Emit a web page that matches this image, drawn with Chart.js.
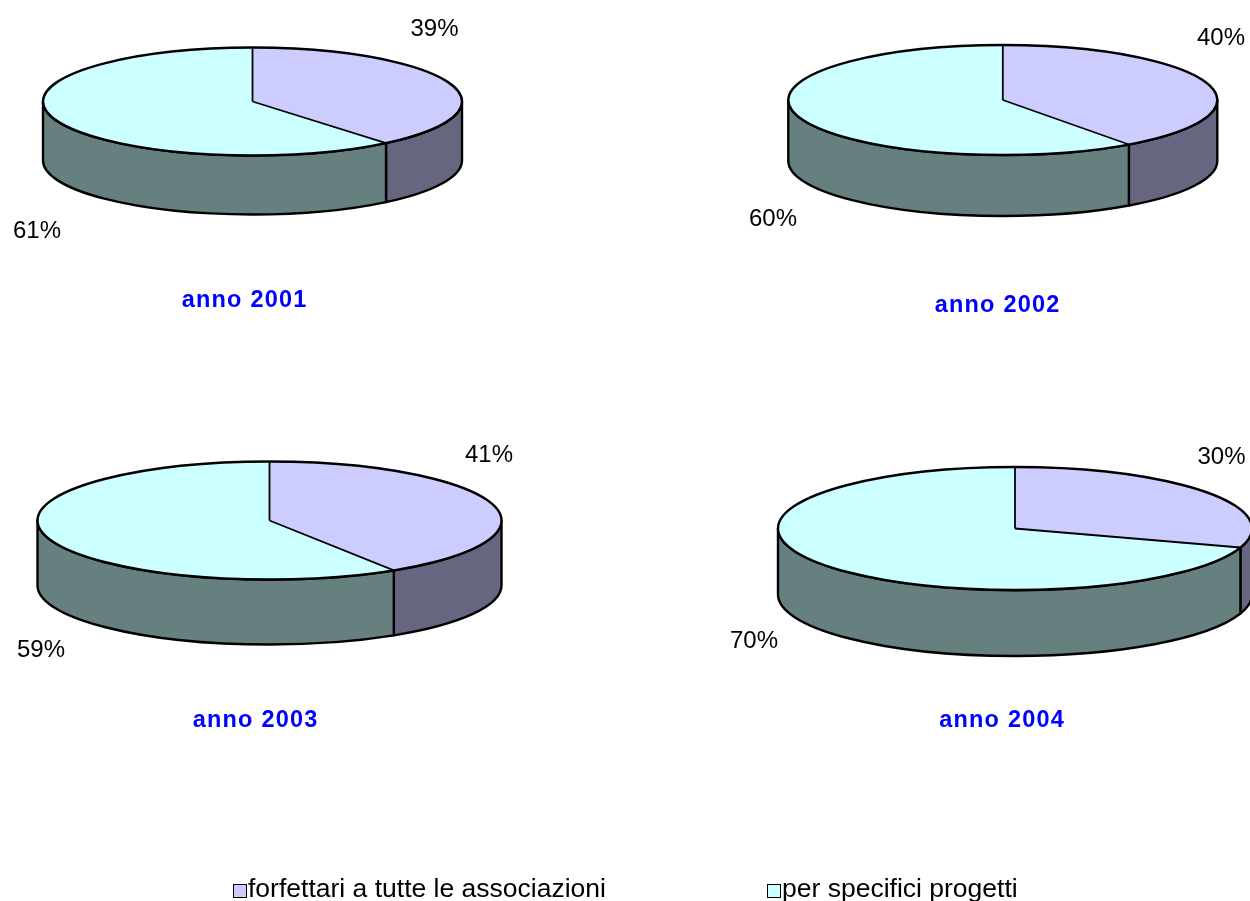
<!DOCTYPE html>
<html>
<head>
<meta charset="utf-8">
<script src="https://cdn.jsdelivr.net/npm/chart.js@4.4.1/dist/chart.umd.min.js"></script>
<style>
html,body{margin:0;padding:0;background:#fff;}
#wrap{position:relative;width:1250px;height:901px;overflow:hidden;background:#fff;}
#wrap canvas{position:absolute;left:0;top:0;}
.leg{position:absolute;font-family:"Liberation Sans",Arial,sans-serif;font-size:26.5px;line-height:26px;color:#000;white-space:nowrap;}
.sw{position:absolute;width:12px;height:12px;border:1px solid #000;box-sizing:content-box;}
</style>
</head>
<body>
<div id="wrap">
  <canvas id="c0" width="1250" height="901"></canvas>
  <canvas id="c1" width="1250" height="901"></canvas>
  <canvas id="c2" width="1250" height="901"></canvas>
  <canvas id="c3" width="1250" height="901"></canvas>
</div>
<script>
// ---- data ----
const years = ['anno 2001', 'anno 2002', 'anno 2003', 'anno 2004'];
const seriesNames = ['forfettari a tutte le associazioni', 'per specifici progetti'];
const forfettari = [39, 40, 41, 30];
const progetti = [61, 60, 59, 70];

// ---- styles ----
const topColors = ['#CCCCFF', '#CCFFFF'];
const sideColors = ['#666680', '#668080'];
const FONT = '"Liberation Sans", Arial, sans-serif';

// ---- layout of each 3D pie (page coordinates) ----
const layouts = [
  {cx: 252.5, cy: 101.5, rx: 209.5, ry: 54,   depth: 59, labels: [[434.5, 35.5], [37, 238]],     title: [244, 307.3]},
  {cx: 1002.8, cy: 100,  rx: 214.5, ry: 55,   depth: 61, labels: [[1221, 45],    [773, 226]],    title: [997, 311.5]},
  {cx: 269.5, cy: 520.5, rx: 232,   ry: 59,   depth: 65, labels: [[489, 461.5],  [41, 657]],     title: [255, 726.5]},
  {cx: 1015,  cy: 528.5, rx: 237,   ry: 61.5, depth: 66, labels: [[1221.5, 464], [754, 648]],    title: [1001.5, 727.3]}
];

const pie3d = {
  id: 'pie3d',
  beforeDatasetsDraw(chart, args, o) {
    const ctx = chart.ctx;
    const arcs = chart.getDatasetMeta(0).data;
    // visible front walls
    ctx.save();
    ctx.lineWidth = 2.4;
    ctx.strokeStyle = '#000';
    ctx.lineJoin = 'round';
    arcs.forEach((a, i) => {
      const s = Math.max(a.startAngle, 0);
      const e = Math.min(a.endAngle, Math.PI);
      if (e <= s) return;
      ctx.beginPath();
      ctx.ellipse(o.cx, o.cy, o.rx, o.ry, 0, s, e, false);
      ctx.ellipse(o.cx, o.cy + o.depth, o.rx, o.ry, 0, e, s, true);
      ctx.closePath();
      ctx.fillStyle = o.sideColors[i];
      ctx.fill();
      ctx.stroke();
    });
    ctx.restore();
    // squash the library's pie into the top ellipse
    const a0 = arcs[0];
    ctx.save();
    ctx.translate(o.cx, o.cy);
    ctx.scale(o.rx / a0.outerRadius, o.ry / a0.outerRadius);
    ctx.translate(-a0.x, -a0.y);
  },
  afterDatasetsDraw(chart, args, o) {
    const ctx = chart.ctx;
    ctx.restore();
    const arcs = chart.getDatasetMeta(0).data;
    const values = chart.data.datasets[0].data;
    ctx.save();
    ctx.strokeStyle = '#000';
    // top outline
    ctx.lineWidth = 2.4;
    ctx.beginPath();
    ctx.ellipse(o.cx, o.cy, o.rx, o.ry, 0, 0, Math.PI * 2);
    ctx.stroke();
    // radial slice edges
    ctx.lineWidth = 1.8;
    arcs.forEach(a => {
      ctx.beginPath();
      ctx.moveTo(o.cx, o.cy);
      ctx.lineTo(o.cx + o.rx * Math.cos(a.startAngle), o.cy + o.ry * Math.sin(a.startAngle));
      ctx.stroke();
    });
    // percentage labels
    ctx.fillStyle = '#000';
    ctx.font = '24px ' + FONT;
    ctx.textAlign = 'center';
    ctx.textBaseline = 'alphabetic';
    values.forEach((v, i) => {
      const p = o.labels[i];
      ctx.fillText(v + '%', p[0], p[1]);
    });
    // title
    ctx.fillStyle = '#0000FF';
    ctx.font = 'bold 23.5px ' + FONT;
    ctx.letterSpacing = '1.2px';
    ctx.fillText(o.title, o.titlePos[0] + 0.6, o.titlePos[1]);
    ctx.restore();
  }
};

years.forEach((yr, k) => {
  const L = layouts[k];
  new Chart(document.getElementById('c' + k), {
    type: 'pie',
    data: {
      labels: seriesNames,
      datasets: [{
        data: [forfettari[k], progetti[k]],
        backgroundColor: topColors,
        borderWidth: 0,
        hoverOffset: 0
      }]
    },
    options: {
      responsive: false,
      animation: false,
      events: [],
      layout: {padding: 0},
      plugins: {
        legend: {display: false},
        tooltip: {enabled: false},
        pie3d: {
          cx: L.cx, cy: L.cy, rx: L.rx, ry: L.ry, depth: L.depth,
          labels: L.labels, title: yr, titlePos: L.title,
          sideColors: sideColors
        }
      }
    },
    plugins: [pie3d]
  });
});

// ---- legend (built from the series names and colours) ----
const legPos = [[233, 248], [767, 782]];
const wrap = document.getElementById('wrap');
seriesNames.forEach((n, i) => {
  const sw = document.createElement('div');
  sw.className = 'sw';
  sw.style.left = legPos[i][0] + 'px';
  sw.style.top = '884px';
  sw.style.background = topColors[i];
  wrap.appendChild(sw);
  const t = document.createElement('div');
  t.className = 'leg';
  t.style.left = legPos[i][1] + 'px';
  t.style.top = '875px';
  t.textContent = n;
  wrap.appendChild(t);
});
</script>
</body>
</html>
